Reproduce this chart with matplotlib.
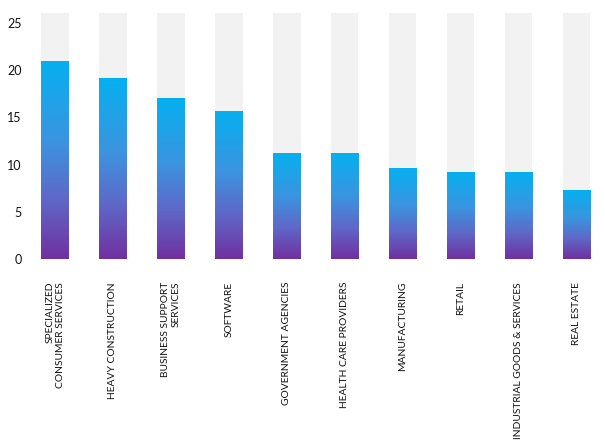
import numpy as np
import matplotlib
matplotlib.use('Agg')
import matplotlib.pyplot as plt
from matplotlib.colors import LinearSegmentedColormap

categories = ['SPECIALIZED\nCONSUMER SERVICES', 'HEAVY CONSTRUCTION', 'BUSINESS SUPPORT\nSERVICES',
              'SOFTWARE', 'GOVERNMENT AGENCIES', 'HEALTH CARE PROVIDERS', 'MANUFACTURING',
              'RETAIL', 'INDUSTRIAL GOODS & SERVICES', 'REAL ESTATE']
values = [21.0, 19.2, 17.0, 15.7, 11.2, 11.2, 9.6, 9.2, 9.2, 7.3]
track = [26] * len(values)
yticks = [0, 5, 10, 15, 20, 25]

plt.rcParams['font.family'] = ['Lato', 'DejaVu Sans']

fig = plt.figure(figsize=(6.05, 4.4), dpi=100)
ax = fig.add_axes([26 / 605, (440 - 259) / 440, 578 / 605, (259 - 13) / 440])

x = np.arange(len(values))
width = 0.47

ax.bar(x, track, width, color='#f2f2f2', zorder=1)
bars = ax.bar(x, values, width, color='none', zorder=2)

cmap = LinearSegmentedColormap.from_list('grad', [(0.0, '#7030a0'), (0.3, '#5f68c8'),
                                                  (0.6, '#3a95e0'), (1.0, '#05b0f0')])
grad = np.linspace(0, 1, 256).reshape(-1, 1)
for b in bars:
    x0, y0 = b.get_x(), b.get_y()
    w, h = b.get_width(), b.get_height()
    im = ax.imshow(grad, cmap=cmap, origin='lower', aspect='auto',
                   extent=(x0, x0 + w, y0, y0 + h), zorder=2)
    im.set_clip_path(b)

ax.set_xlim(-0.5, 9.47)
ax.set_ylim(0, 26.05)
ax.set_yticks(yticks)
ax.set_xticks(x)
ax.set_xticklabels(categories, rotation=90, fontsize=7.4, color='#111111', ma='right')
ax.tick_params(axis='x', length=0, pad=16.5)
ax.tick_params(axis='y', length=0, pad=3, labelsize=9, labelcolor='#111111')
for s in ax.spines.values():
    s.set_visible(False)

fig.savefig('out.png', dpi=100)
